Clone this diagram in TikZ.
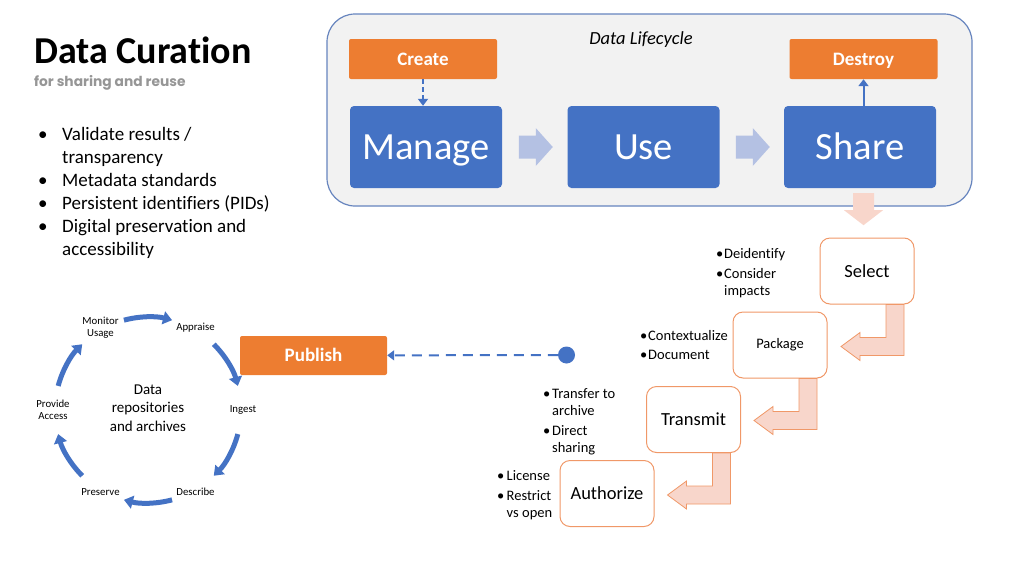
\documentclass[tikz,border=0pt]{standalone}
\usepackage{fontspec}
\setmainfont{Carlito}[Ligatures=NoCommon]
\newfontfamily\poppins{Poppins}
\usetikzlibrary{positioning,arrows.meta,calc}

\definecolor{curorange}{RGB}{237,125,49}
\definecolor{curblue}{RGB}{68,114,196}
\definecolor{flowblue}{RGB}{180,193,227}
\definecolor{lcgray}{RGB}{242,242,242}
\definecolor{lcborder}{RGB}{102,132,190}
\definecolor{pinkfill}{RGB}{248,214,203}
\definecolor{pinkedge}{RGB}{240,152,104}
\definecolor{subgray}{RGB}{150,150,150}

\begin{document}
\begin{tikzpicture}[x=1pt, y=-1pt,
  orangebox/.style={rectangle, fill=curorange, text=white, font=\bfseries\fontsize{19}{21}\selectfont, text height=12.2pt, text depth=0pt, minimum width=148pt, minimum height=40pt, rounded corners=2pt},
  bluebox/.style={rectangle, fill=curblue, text=white, font=\fontsize{38.5}{42}\selectfont, text height=24.8pt, text depth=0pt, minimum width=152pt, minimum height=82pt, rounded corners=4pt},
  stepbox/.style={rectangle, draw=pinkedge, line width=1pt, fill=white, rounded corners=10pt, minimum width=94pt, minimum height=66pt, font=\fontsize{18.5}{20}\selectfont},
  notes/.style={align=left, font=\fontsize{14.5}{17}\selectfont, inner sep=0pt, anchor=north west},
  cyclabel/.style={align=center, font=\fontsize{10.8}{12.5}\selectfont, inner sep=1pt},
  cycarrow/.style={curblue, line width=5pt, -{Triangle[width=13pt,length=9pt]}},
  flowarrow/.style={fill=flowblue},
  bentarrow/.style={draw=pinkedge, fill=pinkfill, line width=0.8pt, line join=miter},
  blueline/.style={curblue, line width=2pt, -{Triangle[width=10pt,length=7pt]}}]

\useasboundingbox (0,0) rectangle (1024,576);

% title and bullet list
\node[anchor=base west, inner sep=0pt, font=\bfseries\fontsize{38}{42}\selectfont] (title) at (34,63) {Data Curation};
\node[anchor=base west, inner sep=0pt, text=subgray, font=\poppins\bfseries\fontsize{13.8}{15}\selectfont] (subtitle) at (34,86) {for sharing and reuse};
\node[anchor=north west, align=left, inner sep=0pt, font=\fontsize{19}{23}\selectfont] (goals) at (38,127) {%
  \makebox[24pt][l]{\textbullet}Validate results /\\
  \hspace*{24pt}transparency\\
  \makebox[24pt][l]{\textbullet}Metadata standards\\
  \makebox[24pt][l]{\textbullet}Persistent identifiers (PIDs)\\
  \makebox[24pt][l]{\textbullet}Digital preservation and\\
  \hspace*{24pt}accessibility};

% data lifecycle
\node[draw=lcborder, fill=lcgray, line width=1.2pt, rounded corners=28pt, minimum width=645pt, minimum height=192pt] (lifecycle) at (649.5,110) {};
\node[font=\itshape\fontsize{18.5}{20}\selectfont] (lctitle) at (641,40) {Data Lifecycle};

\node[orangebox] (create) at (423,59) {Create};
\node[orangebox] (destroy) at (863.5,59) {Destroy};
\node[bluebox] (manage) at (426,147) {Manage};
\node[bluebox] (use) at (643.5,147) {Use};
\node[bluebox] (share) at (860,147) {Share};

\foreach \a/\b in {manage/use, use/share}
  \fill[flowarrow, shift={($(\a.east)!0.5!(\b.west)$)}] (-16,-11.5) -- (1,-11.5) -- (1,-19) -- (18,0) -- (1,19) -- (1,11.5) -- (-16,11.5) -- cycle;

\draw[blueline, dash pattern=on 5pt off 3pt] (create.south) -- (create.south |- manage.north);
\draw[blueline] (destroy.south |- share.north) -- (destroy.south);

% share steps
\node[stepbox] (select) at (867,271) {Select};
\node[stepbox, font=\fontsize{14.5}{16}\selectfont] (package) at (780,345) {Package};
\node[stepbox] (transmit) at (693.5,419.5) {Transmit};
\node[stepbox] (authorize) at (607,493.5) {Authorize};

\fill[pinkfill, shift={(share.south)}] (-7,5) -- (14,5) -- (14,22) -- (23,22) -- (3.5,37) -- (-16,22) -- (-7,22) -- cycle;

\foreach \a in {select, package, transmit}
  \draw[bentarrow, shift={(\a.south)}] (19,0) -- (37,0) -- (37,51) -- (-7,51) -- (-7,56) -- (-26,42) -- (-7,28) -- (-7,33) -- (19,33) -- cycle;

\node[notes] (selnote) at (716,248) {\makebox[8pt][l]{\textbullet}Deidentify\\[3pt]\makebox[8pt][l]{\textbullet}Consider\\\hspace*{8pt}impacts};
\node[notes] (packnote) at (640,330) {\makebox[8pt][l]{\textbullet}Contextualize\\[2pt]\makebox[8pt][l]{\textbullet}Document};
\node[notes] (transnote) at (543,388) {\makebox[9pt][l]{\textbullet}Transfer to\\\hspace*{9pt}archive\\[3pt]\makebox[9pt][l]{\textbullet}Direct\\\hspace*{9pt}sharing};
\node[notes] (authnote) at (497,470) {\makebox[9.5pt][l]{\textbullet}License\\[3pt]\makebox[9.5pt][l]{\textbullet}Restrict\\\hspace*{9.5pt}vs open};

% publish
\node[orangebox, minimum width=147pt, minimum height=39pt] (publish) at (313.5,355.5) {Publish};
\node[circle, fill=curblue, minimum size=17pt, inner sep=0pt] (dot) at (566.5,355) {};
\draw[blueline, dash pattern=on 10pt off 7pt] (dot) -- (publish);

% repository cycle
\coordinate (cyc) at (148,410);
\node[align=center, font=\fontsize{15}{18.5}\selectfont] (repo) at (148,408) {Data\\repositories\\and archives};
\path (cyc) ++(-120:95) node[cyclabel] (monitor) {Monitor\\Usage};
\path (cyc) ++(-60:95) node[cyclabel] (appraise) {Appraise};
\path (cyc) ++(0:95) node[cyclabel] (ingest) {Ingest};
\path (cyc) ++(60:95) node[cyclabel] (describe) {Describe};
\path (cyc) ++(120:95) node[cyclabel] (preserve) {Preserve};
\path (cyc) ++(180:95) node[cyclabel] (provide) {Provide\\Access};
\foreach \m in {-90,-30,30,90,150,210}
  \draw[cycarrow] (cyc) ++(\m-15:93) arc[start angle=\m-15, end angle=\m+15, radius=93];
\end{tikzpicture}
\end{document}
